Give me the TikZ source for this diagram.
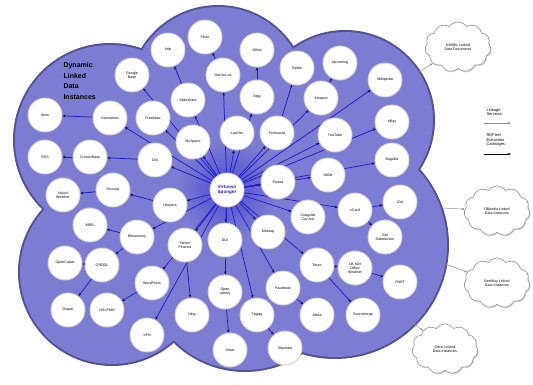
\documentclass[tikz,border=0pt]{standalone}
\usepackage{fontspec}
\setmainfont{Liberation Sans}
\usetikzlibrary{shapes.symbols,arrows.meta,shadows}
\definecolor{cloudfill}{RGB}{124,124,210}
\definecolor{cloudline}{RGB}{82,82,148}
\definecolor{raycol}{RGB}{30,30,200}
\definecolor{tipcol}{RGB}{12,12,90}
\pgfdeclarelayer{back}
\pgfdeclarelayer{mid}
\pgfsetlayers{back,mid,main}

\begin{document}
\begin{tikzpicture}[x=1pt,y=-1pt,
    every node/.style={font=\fontsize{3.6}{4.2}\selectfont,align=center},
    src/.style={circle,fill=white,draw=black!18,line width=0.9pt,minimum size=34pt,inner sep=0pt},
    hub/.style={src,text=raycol,font=\fontsize{4.6}{5.2}\selectfont\bfseries},
    ray/.style={draw=raycol,line width=0.75pt,-{Stealth[length=3.2pt,width=2.6pt,color=tipcol]}},
    outcloud/.style={cloud,cloud puffs=11,cloud puff arc=110,aspect=1.4,draw=black!40,fill=white,
      line width=0.7pt,minimum width=66pt,minimum height=50pt,inner sep=0pt,
      drop shadow={shadow xshift=1pt,shadow yshift=-1.2pt,fill=black!30}},
    feed/.style={draw=black!45,line width=0.5pt,-{Stealth[length=3pt,width=2.4pt]}}]
  \useasboundingbox (0,0) rectangle (533,385);

  % the big cloud
  \begin{pgfonlayer}{back}
    \fill[cloudline] (110,140) circle (97pt) (218,95) circle (90pt) (345,120) circle (90pt)
      (335,245) circle (114pt) (245,270) circle (102pt) (112,272) circle (94pt) (230,200) circle (130pt);
    \fill[cloudfill] (110,140) circle (95pt) (218,95) circle (88pt) (345,120) circle (88pt)
      (335,245) circle (112pt) (245,270) circle (100pt) (112,272) circle (92pt) (230,200) circle (128pt);
    \shade[inner color=raycol!80,outer color=cloudfill] (227,190) circle (50pt);
  \end{pgfonlayer}
  \node[anchor=north west,align=left,font=\fontsize{7}{10.5}\selectfont\bfseries] (title) at (60,59)
    {Dynamic\\Linked\\Data\\Instances};

  \node[hub] (hub) at (227,190) {Virtuoso\\Sponger};

  \node[src] (n1) at (168,50) {Yelp};
  \node[src] (n2) at (205,37) {Flickr};
  \node[src] (n3) at (257,50) {Zillow};
  \node[src] (n4) at (223,75) {Del.icio.us};
  \node[src] (n5) at (188,100) {Slideshare};
  \node[src] (n6) at (257,97) {Digg};
  \node[src] (n7) at (297,68) {Twitter};
  \node[src] (n8) at (321,98) {Amazon};
  \node[src] (n9) at (340,63) {Upcoming};
  \node[src] (n10) at (385,80) {Wikipedia};
  \node[src] (n11) at (392,122) {eBay};
  \node[src] (n12) at (132,75) {Google\\Base};
  \node[src] (n13) at (45,115) {Atom};
  \node[src] (n14) at (110,118) {Geonames};
  \node[src] (n15) at (153,118) {Freebase};
  \node[src] (n16) at (193,142) {MySpace};
  \node[src] (n17) at (237,133) {Last.fm};
  \node[src] (n18) at (277,133) {Technorati};
  \node[src] (n19) at (335,135) {YouTube};
  \node[src] (n20) at (45,157) {RSS};
  \node[src] (n21) at (90,157) {CrunchBase};
  \node[src] (n22) at (155,160) {OAI};
  \node[src] (n23) at (278,182) {Picasa};
  \node[src] (n24) at (328,175) {IMDb};
  \node[src] (n25) at (170,205) {Hoovers};
  \node[src] (n26) at (63,195) {Yahoo!\\Weather};
  \node[src] (n27) at (113,190) {Discogs};
  \node[src] (n28) at (392,160) {Bugzilla};
  \node[src] (n29) at (308,217) {Craigslist\\Car Ads};
  \node[src] (n30) at (355,210) {vCard};
  \node[src] (n31) at (400,202) {iCal};
  \node[src] (n32) at (385,237) {Get\\Satisfaction};
  \node[src] (n33) at (268,232) {Meetup};
  \node[src] (n34) at (225,240) {DOI};
  \node[src] (n35) at (185,245) {Yahoo!\\Finance};
  \node[src] (n36) at (90,225) {XBRL};
  \node[src] (n37) at (137,237) {Bibsonomy};
  \node[src] (n38) at (65,263) {OpenCalais};
  \node[src] (n39) at (102,265) {GRDDL};
  \node[src] (n40) at (152,283) {WordPress};
  \node[src] (n41) at (68,310) {Drupal};
  \node[src] (n42) at (107,310) {OAI-PMH};
  \node[src] (n43) at (147,335) {XFN};
  \node[src] (n44) at (225,292) {Open\\Library};
  \node[src] (n45) at (192,315) {Ning};
  \node[src] (n46) at (257,315) {Tagjag};
  \node[src] (n47) at (283,288) {Facebook};
  \node[src] (n48) at (317,265) {Tesco};
  \node[src] (n49) at (317,315) {Alexa};
  \node[src] (n50) at (230,350) {Orkut};
  \node[src] (n51) at (285,348) {Slashdot};
  \node[src] (n52) at (355,268) {UK Met\\Office\\Weather};
  \node[src] (n53) at (400,282) {CNET};
  \node[src] (n54) at (363,315) {Sourceforge};

  % outside clouds
  \node[outcloud] (umbel) at (458,47) {UMBEL Linked\\Data Documents};
  \node[outcloud] (dbp) at (497,211) {DBpedia Linked\\Data Instances};
  \node[outcloud] (bby) at (497,283) {BestBuy Linked\\Data Instances};
  \node[outcloud] (other) at (445,349) {Other Linked\\Data Instances};
  \coordinate (f1) at (416,74);
  \coordinate (f2) at (443,208);
  \coordinate (f3) at (440,262);
  \coordinate (f4) at (411,321);

  % legend
  \node[anchor=west,align=left,font=\fontsize{4}{4.8}\selectfont] (lkey) at (483,112) {Linkage\\Services};
  \coordinate (la) at (484,123);
  \coordinate (lb) at (511,123);
  \node[anchor=west,align=left,font=\fontsize{4}{4.8}\selectfont] (rkey) at (483,140) {RDFizer\\Extraction\\Cartridges};
  \coordinate (ra) at (484,154);
  \coordinate (rb) at (511,154);

  \begin{pgfonlayer}{mid}
    \foreach \t in {n4,n5,n6,n8,n10,n11,n12,n14,n15,n16,n17,n18,n19,n22,n23,n24,n25,n28,n29,n30,
        n33,n34,n35,n37,n40,n43,n44,n46,n47,n48}
      \draw[ray] (hub) -- (\t);
    \foreach \s/\t in {n5/n1,n4/n2,n6/n3,n18/n7,n8/n9,n14/n13,n22/n21,n21/n20,n25/n27,n27/n26,
        n37/n36,n39/n38,n37/n39,n39/n41,n40/n42,n35/n45,n44/n50,n46/n51,n47/n49,n48/n52,
        n52/n53,n48/n54,n30/n31,n30/n32}
      \draw[ray] (\s) -- (\t);
    \draw[feed] (f1) -- (umbel);
    \draw[feed] (f2) -- (dbp);
    \draw[feed] (f3) -- (bby);
    \draw[feed] (f4) -- (other);
    \draw[feed] (la) -- (lb);
    \draw[ray,draw=black] (ra) -- (rb);
  \end{pgfonlayer}
\end{tikzpicture}
\end{document}
